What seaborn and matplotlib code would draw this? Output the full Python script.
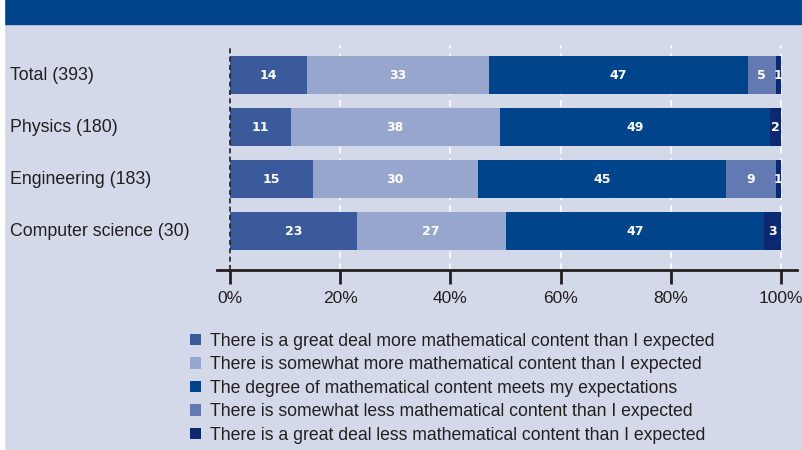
import pandas as pd
import matplotlib.pyplot as plt
import seaborn as sns
from matplotlib.patches import Patch, Rectangle

# Datos (porcentajes)
categories = ["Total (393)", "Physics (180)", "Engineering (183)", "Computer science (30)"]
great_more = [14, 11, 15, 23]
some_more = [33, 38, 30, 27]
meets = [47, 49, 45, 47]
some_less = [5, 0, 9, 0]
great_less = [1, 2, 1, 3]

series_names = [
    "There is a great deal more mathematical content than I expected",
    "There is somewhat more mathematical content than I expected",
    "The degree of mathematical content meets my expectations",
    "There is somewhat less mathematical content than I expected",
    "There is a great deal less mathematical content than I expected",
]
colors = ["#3a5a9c", "#97a6cd", "#00448c", "#6279b1", "#0b2870"]
ticks = [0, 20, 40, 60, 80, 100]

df = pd.DataFrame({"cat": categories, "s0": great_more, "s1": some_more,
                   "s2": meets, "s3": some_less, "s4": great_less})
cols = ["s0", "s1", "s2", "s3", "s4"]
cum = df[cols].cumsum(axis=1)

sns.set_theme(style="white")
plt.rcParams["font.family"] = ["Liberation Sans", "DejaVu Sans"]
text_col = "#231f20"
bg = "#d3d9e8"

fig = plt.figure(figsize=(8.03, 4.5), dpi=100, facecolor=bg)
# banda superior y borde blanco
fig.patches.append(Rectangle((4 / 803, 426 / 450), 1, 1, transform=fig.transFigure,
                             color="#00448c", zorder=0))
fig.patches.append(Rectangle((0, 0), 4 / 803, 1, transform=fig.transFigure,
                             color="white", zorder=0))

ax = fig.add_axes([217 / 803, 180 / 450, 580 / 803, 225 / 450])
ax.set_facecolor(bg)

# barras apiladas: se dibuja la suma acumulada de mayor a menor
for k in range(4, -1, -1):
    sns.barplot(x=cum[cols[k]], y=df["cat"], orient="h", color=colors[k],
                saturation=1, width=0.73, errorbar=None, linewidth=0, ax=ax)

# etiquetas de valores
for i in range(len(categories)):
    left = 0
    for k, c in enumerate(cols):
        v = df.loc[i, c]
        if v > 0:
            ax.text(left + v / 2, i, str(v), ha="center", va="center",
                    color="white", fontsize=9, fontweight="bold",
                    family="DejaVu Sans", zorder=5)
        left += v

ax.set_xlim(-2.36, 102.9)
ax.set_ylim(3.74, -0.577)

for t in ticks[1:]:
    ax.axvline(t, color="white", lw=1.2, ls=(0, (4, 3)), zorder=0.5)
ax.axvline(0, color=text_col, lw=1.2, ls=(0, (3, 2)), zorder=3)

for s in ["top", "right", "left"]:
    ax.spines[s].set_visible(False)
ax.spines["bottom"].set_color(text_col)
ax.spines["bottom"].set_linewidth(2)

ax.set_xticks(ticks)
ax.set_xticklabels([f"{t}%" for t in ticks])
ax.tick_params(axis="x", bottom=True, length=10, width=2, color=text_col,
               labelsize=12.5, labelcolor=text_col, pad=5)
ax.set_yticks([])
ax.set_xlabel("")
ax.set_ylabel("")

for i, c in enumerate(categories):
    ax.text(-207 / 580, i, c, transform=ax.get_yaxis_transform(), ha="left",
            va="center", fontsize=12.8, color=text_col)

handles = [Patch(facecolor=c, edgecolor="none") for c in colors]
fig.legend(handles, series_names, loc="upper left", bbox_to_anchor=(181 / 803, 1 - 324 / 450),
           frameon=False, fontsize=12.7, labelcolor=text_col, handlelength=0.62,
           handleheight=0.62, handletextpad=0.55, labelspacing=0.37, borderpad=0)

fig.savefig("out.png", dpi=100, facecolor=bg)
